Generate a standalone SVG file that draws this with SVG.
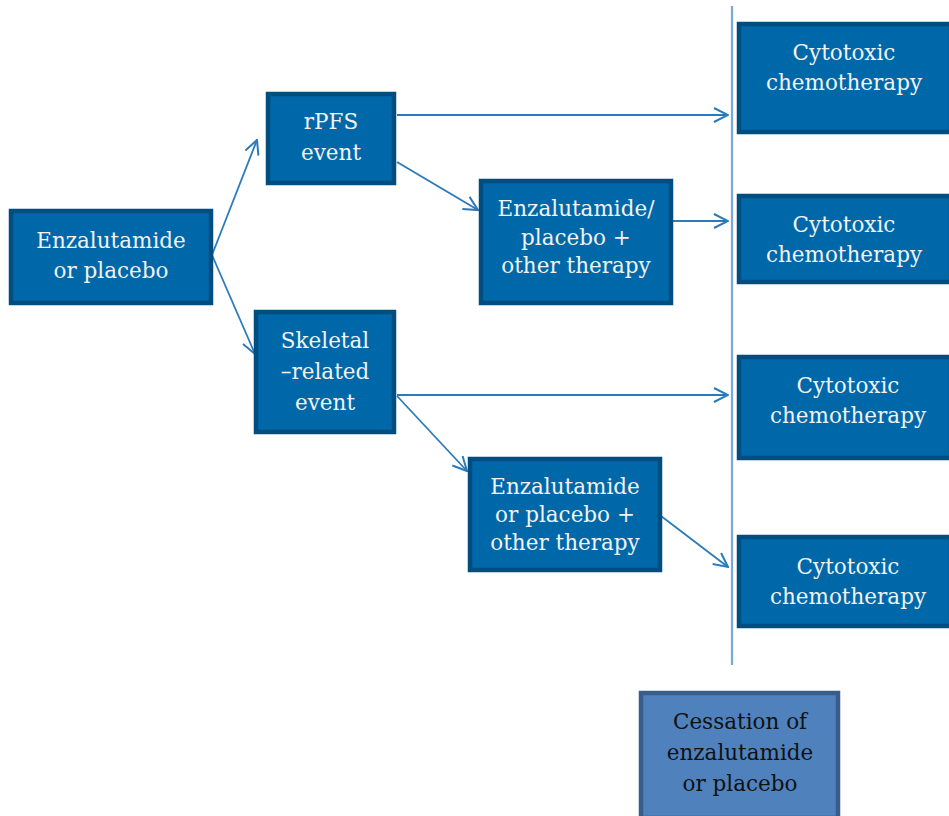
<svg xmlns="http://www.w3.org/2000/svg" width="949" height="816" viewBox="0 0 949 816">
<style>
.box{fill:#0068A8;stroke:#004E80;stroke-width:4.5}
.box2{fill:#4F81BD;stroke:#385D8A;stroke-width:4.5}
.t{font-family:"DejaVu Serif","Liberation Serif",serif;font-size:21.5px;fill:#F2F2F2;text-anchor:middle}
.t2{font-family:"DejaVu Serif","Liberation Serif",serif;font-size:21.5px;fill:#111;text-anchor:middle}
.c{stroke:#2B7BBA;stroke-width:1.8;fill:none;marker-end:url(#ah)}
</style>
<defs>
<marker id="ah" viewBox="0 0 16 16" refX="15" refY="8" markerWidth="16" markerHeight="16" markerUnits="userSpaceOnUse" orient="auto">
<path d="M1,1 L15,8 L1,15" fill="none" stroke="#2B7BBA" stroke-width="2"/>
</marker>
</defs>
<g id="connectors">
<line x1="732" y1="6" x2="732" y2="665" stroke="#7AA6DA" stroke-width="2.2"/>
<line class="c" x1="212" y1="255" x2="257" y2="140"/>
<line class="c" x1="212" y1="255" x2="255" y2="354"/>
<line class="c" x1="397" y1="115" x2="728" y2="115"/>
<line class="c" x1="397" y1="162" x2="478" y2="210"/>
<line class="c" x1="673" y1="221" x2="728" y2="221"/>
<line class="c" x1="397" y1="395" x2="728" y2="395"/>
<line class="c" x1="397" y1="396" x2="467" y2="471"/>
<line class="c" x1="661" y1="516" x2="728" y2="567"/>
</g>
<g id="n-start">
<rect class="box" x="11" y="211" width="200" height="92"/>
<text class="t" x="111" y="248">Enzalutamide</text>
<text class="t" x="111" y="278">or placebo</text>
</g>
<g id="n-rpfs">
<rect class="box" x="268" y="94" width="126" height="89"/>
<text class="t" x="331" y="129">rPFS</text>
<text class="t" x="331" y="160">event</text>
</g>
<g id="n-ept1">
<rect class="box" x="481" y="181" width="190" height="122"/>
<text class="t" x="576" y="216">Enzalutamide/</text>
<text class="t" x="576" y="245">placebo +</text>
<text class="t" x="576" y="273">other therapy</text>
</g>
<g id="n-sre">
<rect class="box" x="256" y="312" width="138" height="120"/>
<text class="t" x="325" y="348">Skeletal</text>
<text class="t" x="325" y="379">–related</text>
<text class="t" x="325" y="410">event</text>
</g>
<g id="n-ept2">
<rect class="box" x="470" y="459" width="190" height="111"/>
<text class="t" x="565" y="494">Enzalutamide</text>
<text class="t" x="565" y="522">or placebo +</text>
<text class="t" x="565" y="550">other therapy</text>
</g>
<g id="n-chemo1">
<rect class="box" x="739" y="24" width="212" height="108"/>
<text class="t" x="844" y="60">Cytotoxic</text>
<text class="t" x="844" y="90">chemotherapy</text>
</g>
<g id="n-chemo2">
<rect class="box" x="739" y="196" width="212" height="86"/>
<text class="t" x="844" y="232">Cytotoxic</text>
<text class="t" x="844" y="262">chemotherapy</text>
</g>
<g id="n-chemo3">
<rect class="box" x="739" y="357" width="212" height="101"/>
<text class="t" x="848" y="393">Cytotoxic</text>
<text class="t" x="848" y="423">chemotherapy</text>
</g>
<g id="n-chemo4">
<rect class="box" x="739" y="537" width="212" height="89"/>
<text class="t" x="848" y="574">Cytotoxic</text>
<text class="t" x="848" y="604">chemotherapy</text>
</g>
<g id="n-cessation">
<rect class="box2" x="641" y="693" width="197" height="125"/>
<text class="t2" x="740" y="729">Cessation of</text>
<text class="t2" x="740" y="760">enzalutamide</text>
<text class="t2" x="740" y="791">or placebo</text>
</g>
</svg>
